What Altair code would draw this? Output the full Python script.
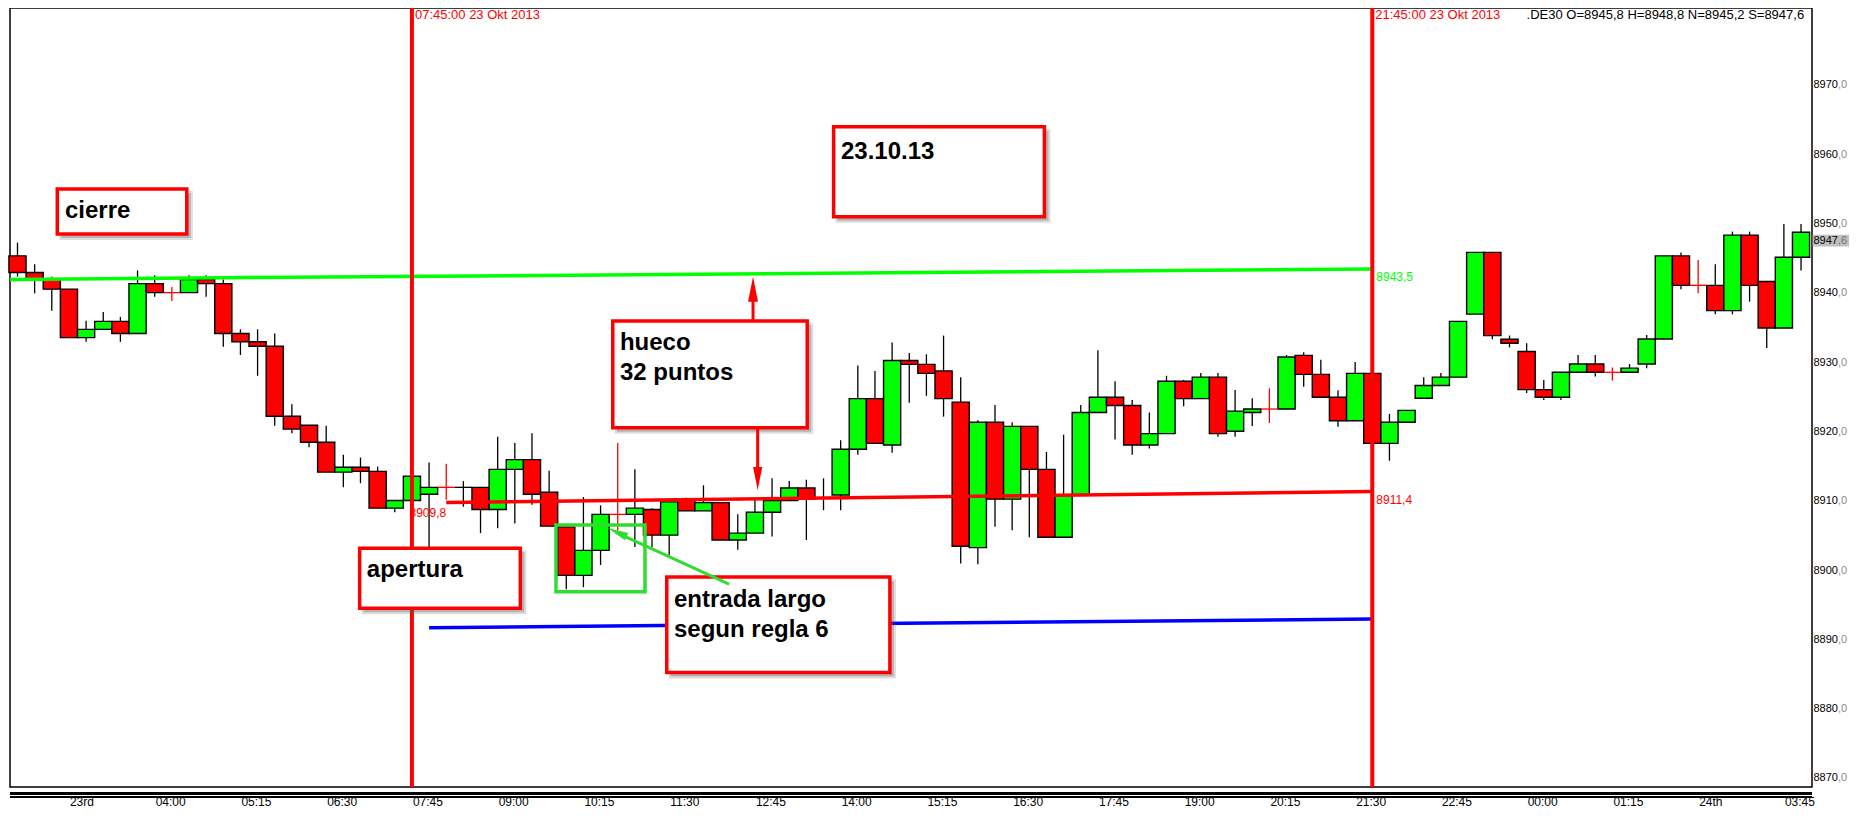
import altair as alt
import pandas as pd

FONT = "Liberation Sans"
RED = "#ff0000"
GREEN = "#00ff00"
GREEN2 = "#2fdc2f"
BLUE = "#0000ff"

# ---- 15-minute candles (bar index 0..104) ----
opens = [8945.4, 8943.0, 8942.0, 8940.6, 8933.6, 8934.8, 8935.95, 8934.2, 8941.4, 8940.1,
         8940.1, 8942.0, 8941.4, 8934.2, 8933.0, 8932.35, 8922.25, 8920.95, 8918.5, 8914.2,
         8914.9, 8914.3, 8909.0, 8910.1, 8911.0, 8912.0, 8912.0, 8912.0, 8908.8, 8914.6,
         8916.0, 8911.3, 8906.3, 8899.3, 8902.9, 8908.1, 8908.1, 8908.8, 8905.1, 8910.2,
         8908.6, 8909.8, 8904.4, 8905.4, 8908.4, 8910.1, 8911.9, 8910.5, 8910.9, 8917.5,
         8924.8, 8918.1, 8930.3, 8929.75, 8928.8, 8924.3, 8903.3, 8921.4, 8910.3, 8920.8,
         8914.6, 8904.8, 8910.9, 8922.8, 8925.0, 8923.8, 8918.1, 8919.75, 8927.3, 8924.8,
         8927.9, 8920.1, 8922.8, 8923.3, 8923.3, 8931.05, 8928.3, 8925.0, 8921.6, 8928.45,
         8918.35, 8921.4, 8924.85, 8926.7, 8927.9, 8937.0, 8945.9, 8933.36, 8931.6, 8926.1,
         8925.0, 8928.6, 8929.8, 8928.6, 8928.6, 8929.8, 8933.4, 8945.4, 8941.15, 8941.15,
         8937.5, 8948.4, 8941.7, 8935.0, 8945.2]
highs = [8947.3, 8944.2, 8942.4, 8940.6, 8936.05, 8937.3, 8936.6, 8943.3, 8942.6, 8940.9,
         8942.6, 8942.6, 8942.0, 8934.8, 8934.8, 8934.2, 8924.0, 8920.95, 8920.9, 8916.7,
         8916.3, 8915.0, 8910.1, 8913.6, 8915.6, 8915.4, 8912.9, 8912.0, 8919.3, 8918.4,
         8919.8, 8914.4, 8906.3, 8910.6, 8909.4, 8918.4, 8914.6, 8909.0, 8909.9, 8910.5,
         8912.3, 8909.8, 8908.1, 8910.2, 8913.3, 8912.9, 8913.1, 8913.3, 8918.8, 8929.6,
         8928.8, 8932.9, 8931.4, 8931.2, 8933.9, 8927.9, 8921.7, 8923.9, 8921.4, 8920.8,
         8917.1, 8919.6, 8923.9, 8931.8, 8927.3, 8924.6, 8922.8, 8928.1, 8927.5, 8928.5,
         8928.5, 8926.05, 8924.85, 8926.3, 8931.1, 8931.5, 8930.4, 8926.0, 8930.1, 8928.45,
         8922.6, 8923.1, 8927.9, 8928.5, 8935.95, 8945.9, 8945.9, 8933.9, 8932.8, 8927.5,
         8928.6, 8931.1, 8931.1, 8929.3, 8929.8, 8934.0, 8945.4, 8945.9, 8944.8, 8944.2,
         8948.9, 8948.9, 8941.7, 8950.0, 8950.0]
lows = [8942.4, 8940.0, 8937.5, 8933.6, 8933.0, 8934.8, 8933.0, 8934.2, 8939.5, 8938.9,
        8940.1, 8939.5, 8932.3, 8931.1, 8928.1, 8920.9, 8919.8, 8917.8, 8914.2, 8912.0,
        8912.6, 8909.0, 8908.4, 8910.1, 8903.4, 8910.2, 8909.2, 8905.4, 8906.1, 8906.8,
        8909.5, 8906.4, 8897.3, 8897.6, 8900.8, 8905.8, 8903.4, 8903.4, 8902.2, 8908.6,
        8908.6, 8904.4, 8903.0, 8905.4, 8904.9, 8910.1, 8904.4, 8908.7, 8908.7, 8916.7,
        8918.35, 8917.0, 8924.2, 8925.2, 8922.2, 8901.0, 8900.9, 8906.3, 8905.8, 8904.8,
        8904.8, 8904.8, 8910.9, 8922.8, 8918.9, 8916.7, 8917.6, 8919.75, 8923.7, 8924.8,
        8919.3, 8919.3, 8920.85, 8921.3, 8923.3, 8926.5, 8925.0, 8920.75, 8921.6, 8918.35,
        8915.85, 8921.4, 8924.85, 8926.7, 8927.9, 8937.0, 8933.36, 8932.2, 8925.6, 8924.6,
        8924.6, 8928.6, 8928.0, 8927.4, 8928.6, 8929.2, 8933.4, 8940.6, 8940.0, 8936.97,
        8936.97, 8938.8, 8932.1, 8935.0, 8943.3]
closes = [8943.0, 8942.0, 8940.6, 8933.6, 8934.8, 8935.95, 8934.2, 8941.4, 8940.1, 8940.1,
          8942.0, 8941.4, 8934.2, 8933.0, 8932.35, 8922.25, 8920.4, 8918.5, 8914.2, 8914.9,
          8914.3, 8909.0, 8910.1, 8913.6, 8912.0, 8912.0, 8912.0, 8908.8, 8914.6, 8916.0,
          8911.0, 8906.4, 8899.3, 8902.9, 8908.1, 8908.1, 8909.0, 8905.1, 8909.9, 8908.6,
          8909.8, 8904.4, 8905.4, 8908.4, 8910.1, 8911.9, 8910.3, 8910.5, 8917.5, 8924.8,
          8918.35, 8930.3, 8929.75, 8928.45, 8924.8, 8903.5, 8921.4, 8910.3, 8920.8, 8914.6,
          8904.8, 8910.9, 8922.8, 8925.0, 8923.8, 8918.1, 8919.75, 8927.3, 8924.8, 8927.9,
          8919.75, 8923.0, 8923.3, 8923.3, 8930.8, 8928.3, 8925.0, 8921.6, 8928.45, 8918.35,
          8921.4, 8923.1, 8926.7, 8927.9, 8935.95, 8945.9, 8933.9, 8932.8, 8926.1, 8925.0,
          8928.6, 8929.8, 8928.6, 8928.6, 8929.2, 8933.4, 8945.4, 8941.15, 8941.15, 8937.5,
          8948.4, 8941.15, 8935.0, 8945.2, 8948.8]
doji_red = [9, 25, 35, 73, 93, 98]
doji_black = [26, 47]

# ---- axes ----
tick_idx = list(range(3, 104, 5))
tick_labels = ["23rd", "04:00", "05:15", "06:30", "07:45", "09:00", "10:15", "11:30",
               "12:45", "14:00", "15:15", "16:30", "17:45", "19:00", "20:15", "21:30",
               "22:45", "00:00", "01:15", "24th", "03:45"]
y_ticks = list(range(8870, 8971, 10))
last_price = 8947.6

# ---- drawn levels (bar index, price) ----
level_x1 = [-0.437, 25.0, 24.0]
level_x2 = [79.0, 79.0, 79.0]
level_y1 = [8942.0, 8909.8, 8891.75]
level_y2 = [8943.5, 8911.4, 8893.0]
level_col = [GREEN, RED, BLUE]
vlines = [23, 79]

# ---- annotation boxes (bar index, price) ----
box_x1 = [2.32, 47.59, 34.71, 19.95, 37.86]
box_x2 = [9.87, 59.88, 46.05, 29.32, 50.87]
box_y1 = [8955.05, 8964.04, 8936.0, 8903.2, 8899.05]
box_y2 = [8948.56, 8951.05, 8920.6, 8894.54, 8885.3]
note_x = [2.77, 48.02, 35.13, 35.13, 20.37, 38.28, 38.28]
note_y = [8950.82, 8959.38, 8931.82, 8927.49, 8899.1, 8894.78, 8890.45]
note_t = ["cierre", "23.10.13", "hueco", "32 puntos", "apertura", "entrada largo", "segun regla 6"]
gbox = [31.40, 36.59, 8906.57, 8896.94]

# arrows: shafts and heads
shaft_x1 = [42.89, 43.16, 41.49]
shaft_x2 = [42.89, 43.16, 34.9]
shaft_y1 = [8936.0, 8920.6, 8898.05]
shaft_y2 = [8941.0, 8913.5, 8905.5]
shaft_c = [RED, RED, GREEN2]
head_x = [42.89, 43.16, 34.43]
head_y = [8942.4, 8911.62, 8906.13]
head_a = [0, 180, 294.8]
head_s = [625, 529, 420]
head_c = [RED, RED, GREEN2]

# ---------------------------------------------------------------
rows = []
for i in range(len(opens)):
    o, h, l, c = opens[i], highs[i], lows[i], closes[i]
    if i in doji_red:
        kind, wick, fill = "doji", RED, RED
    elif i in doji_black:
        kind, wick, fill = "doji", "black", "black"
    else:
        kind, wick = "body", "black"
        fill = GREEN if c > o else RED
    rows.append(dict(i=i, x1=i - 0.5, x2=i + 0.5, open=o, high=h, low=l,
                     close=c, kind=kind, wick=wick, fill=fill))
cdf = pd.DataFrame(rows)

XS = alt.Scale(domain=[-0.437, 104.64], nice=False, zero=False)
YS = alt.Scale(domain=[8868.76, 8981.17], nice=False, zero=False)


def xq(f):
    return alt.X(f, type="quantitative", scale=XS, axis=None)


def yq(f):
    return alt.Y(f, type="quantitative", scale=YS, axis=None)


base = alt.Chart(cdf)
wicks = base.mark_rule(strokeWidth=1.3).encode(
    x=xq("i"), y=yq("low"), y2="high", color=alt.Color("wick:N", scale=None))
bodies = base.transform_filter("datum.kind == 'body'").mark_rect(
    stroke="black", strokeWidth=1.4).encode(
    x=xq("x1"), x2="x2", y=yq("open"), y2="close", fill=alt.Color("fill:N", scale=None))
dojis = base.transform_filter("datum.kind == 'doji'").mark_rule(strokeWidth=1.3).encode(
    x=xq("x1"), x2="x2", y=yq("open"), color=alt.Color("wick:N", scale=None))

ldf = pd.DataFrame(dict(x=level_x1, x2=level_x2, y=level_y1, y2=level_y2, c=level_col))
levels = alt.Chart(ldf).mark_rule(strokeWidth=3.5).encode(
    x=xq("x"), x2="x2", y=yq("y"), y2="y2", color=alt.Color("c:N", scale=None))

vdf = pd.DataFrame(dict(i=vlines))
vrules = alt.Chart(vdf).mark_rule(color=RED, strokeWidth=4).encode(x=xq("i"))

bdf = pd.DataFrame(dict(x=box_x1, x2=box_x2, y=box_y1, y2=box_y2))
shadow = alt.Chart(bdf).mark_rect(fill="#555555", opacity=0.3, xOffset=4, x2Offset=4,
                                  yOffset=4, y2Offset=4).encode(
    x=xq("x"), x2="x2", y=yq("y"), y2="y2")
shadow2 = alt.Chart(bdf).mark_rect(fill="#555555", opacity=0.2, xOffset=2, x2Offset=6,
                                   yOffset=2, y2Offset=6).encode(
    x=xq("x"), x2="x2", y=yq("y"), y2="y2")
boxes = alt.Chart(bdf).mark_rect(fill="white", stroke=RED, strokeWidth=3.5).encode(
    x=xq("x"), x2="x2", y=yq("y"), y2="y2")

gdf = pd.DataFrame(dict(x=[gbox[0]], x2=[gbox[1]], y=[gbox[2]], y2=[gbox[3]]))
greenbox = alt.Chart(gdf).mark_rect(fillOpacity=0, stroke=GREEN2, strokeWidth=3.5).encode(
    x=xq("x"), x2="x2", y=yq("y"), y2="y2")

ndf = pd.DataFrame(dict(x=note_x, y=note_y, t=note_t))
notes = alt.Chart(ndf).mark_text(align="left", baseline="alphabetic", fontSize=24,
                                 fontWeight="bold", font=FONT, color="black").encode(
    x=xq("x"), y=yq("y"), text="t:N")

sdf = pd.DataFrame(dict(x=shaft_x1, x2=shaft_x2, y=shaft_y1, y2=shaft_y2, c=shaft_c))
shafts = alt.Chart(sdf).mark_rule(strokeWidth=3).encode(
    x=xq("x"), x2="x2", y=yq("y"), y2="y2", color=alt.Color("c:N", scale=None))
hdf = pd.DataFrame(dict(x=head_x, y=head_y, a=head_a, s=head_s, c=head_c))
heads = alt.Chart(hdf).mark_point(shape="M0,0L0.4,2L-0.4,2Z", filled=True, opacity=1).encode(
    x=xq("x"), y=yq("y"), angle=alt.Angle("a:Q", scale=None),
    size=alt.Size("s:Q", scale=None), color=alt.Color("c:N", scale=None))

# level value labels
rl = pd.DataFrame(dict(x=[79, 79], y=[level_y2[0], level_y2[1]],
                       t=["8943,5", "8911,4"], c=[GREEN, RED]))
rlab = alt.Chart(rl).mark_text(align="left", baseline="top", fontSize=12, font=FONT,
                               dx=4, dy=3).encode(
    x=xq("x"), y=yq("y"), text="t:N", color=alt.Color("c:N", scale=None))
ll = pd.DataFrame(dict(x=[level_x1[1]], y=[level_y1[1]], t=["8909,8"]))
llab = alt.Chart(ll).mark_text(align="right", baseline="top", fontSize=12, font=FONT,
                               color=RED, dy=5).encode(x=xq("x"), y=yq("y"), text="t:N")

# header texts
hd = pd.DataFrame(dict(i=vlines, t=["07:45:00 23 Okt 2013", "21:45:00 23 Okt 2013"]))
hdr = alt.Chart(hd).mark_text(align="left", baseline="top", fontSize=13, font=FONT,
                              color=RED, dx=3).encode(
    x=xq("i"), y=alt.value(1), text="t:N")
info = alt.Chart(pd.DataFrame(dict(t=[".DE30 O=8945,8 H=8948,8 N=8945,2 S=8947,6"]))).mark_text(
    align="left", baseline="top", fontSize=13, font=FONT, color="black").encode(
    x=alt.value(1516.6), y=alt.value(1), text="t:N")

# right price axis (text)
ydf = pd.DataFrame(dict(v=y_ticks, a=[str(v) for v in y_ticks], b=[",0"] * len(y_ticks)))
ylab_a = alt.Chart(ydf).mark_text(align="left", baseline="middle", fontSize=11, font=FONT,
                                  color="black").encode(
    x=alt.value(1803.5), y=yq("v"), text="a:N")
ylab_b = alt.Chart(ydf).mark_text(align="left", baseline="middle", fontSize=11, font=FONT,
                                  color="#8a8a8a").encode(
    x=alt.value(1828), y=yq("v"), text="b:N")
pdf = pd.DataFrame(dict(v=[last_price], lo=[last_price - 0.85], hi=[last_price + 0.85],
                        a=["8947"], b=[",6"]))
plast_bg = alt.Chart(pdf).mark_rect(fill="#c0c0c0").encode(
    x=alt.value(1802.7), x2=alt.value(1839), y=yq("lo"), y2="hi")
plast_a = alt.Chart(pdf).mark_text(align="left", baseline="middle", fontSize=11, font=FONT,
                                   color="black").encode(
    x=alt.value(1803.5), y=yq("v"), text="a:N")
plast_b = alt.Chart(pdf).mark_text(align="left", baseline="middle", fontSize=11, font=FONT,
                                   color="#707070").encode(
    x=alt.value(1828), y=yq("v"), text="b:N")

# time axis (text)
xdf = pd.DataFrame(dict(i=tick_idx, t=tick_labels))
xlab = alt.Chart(xdf).mark_text(align="left", baseline="alphabetic", fontSize=12, font=FONT,
                                color="black", dx=1).encode(
    x=xq("i"), y=alt.value(798), text="t:N")
dbl1 = alt.Chart(xdf).mark_rule(color="black", strokeWidth=1.3).encode(
    x=alt.value(0), x2=alt.value(1802), y=alt.value(785.5))
dbl2 = alt.Chart(xdf).mark_rule(color="black", strokeWidth=1.3).encode(
    x=alt.value(0), x2=alt.value(1802), y=alt.value(788.8))

chart = alt.layer(
    wicks, bodies, dojis, levels, vrules,
    shadow2, shadow, boxes, greenbox, notes, shafts, heads,
    rlab, llab, hdr, info,
    plast_bg, ylab_a, ylab_b, plast_a, plast_b,
    xlab, dbl1, dbl2,
).properties(
    width=1802, height=779,
    padding={"left": 2, "top": 0, "right": 37, "bottom": 23},
    autosize=alt.AutoSizeParams(type="none"),
).configure_view(stroke="black", strokeWidth=1.5)

chart.save("out.html", embed_options={"renderer": "svg", "actions": False})
